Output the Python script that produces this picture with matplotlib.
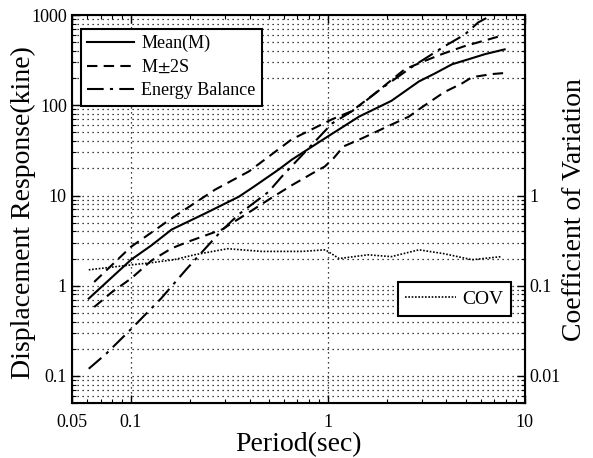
import matplotlib
matplotlib.use("Agg")
import matplotlib.pyplot as plt
from matplotlib.ticker import LogLocator, NullFormatter, FixedLocator, FixedFormatter

plt.rcParams['font.family'] = ['Liberation Serif', 'DejaVu Serif']
plt.rcParams['mathtext.fontset'] = 'stix'

# ---- data ----
mean_T = [0.061, 0.1, 0.127, 0.161, 0.237, 0.353, 0.42, 0.564, 0.656, 0.965,
          1.44, 2.1, 2.9, 3.5, 4.27, 5.2, 6.3, 7.9]
mean_v = [0.72, 1.94, 2.8, 4.2, 6.3, 9.7, 12.5, 19.5, 25, 43,
          75, 112, 184, 226, 285, 325, 370, 417]

upper_T = [0.065, 0.1, 0.165, 0.267, 0.397, 0.656, 1.05, 1.32, 1.73, 2.45,
           3.07, 3.8, 4.9, 7.6]
upper_v = [1.1, 2.7, 5.8, 11.6, 18.5, 42, 70, 86, 135, 250,
           308, 370, 450, 590]

lower_T = [0.065, 0.08, 0.1, 0.127, 0.161, 0.197, 0.29, 0.397, 0.52, 0.656,
           0.83, 0.965, 1.07, 1.2, 1.49, 2.1, 2.58, 3.0, 3.9, 4.8, 5.4, 6.8, 7.9]
lower_v = [0.58, 0.85, 1.2, 1.9, 2.6, 3.1, 4.2, 6.5, 9.5, 13,
           17.5, 21, 26, 35, 43, 61, 75, 95, 140, 175, 205, 222, 228]

energy_T = [0.061, 0.075, 0.1, 0.142, 0.192, 0.25, 0.286, 0.353, 0.5, 0.58,
            1.05, 1.37, 1.88, 2.67, 3.9, 4.96, 5.8, 6.8]
energy_v = [0.12, 0.177, 0.33, 0.72, 1.54, 2.9, 4.0, 6.2, 11, 16,
            63, 90, 155, 266, 450, 610, 830, 1000]

cov_T = [0.061, 0.1, 0.127, 0.165, 0.21, 0.26, 0.31, 0.46, 0.74, 0.97,
         1.14, 1.6, 2.1, 2.9, 3.9, 5.4, 7.6]
cov_v = [0.15, 0.17, 0.18, 0.194, 0.22, 0.24, 0.257, 0.24, 0.24, 0.25,
         0.20, 0.22, 0.21, 0.25, 0.226, 0.194, 0.21]

xticks = [0.05, 0.1, 1, 10]
xticklabels = ['0.05', '0.1', '1', '10']
yticks = [0.1, 1, 10, 100, 1000]
yticklabels = ['0.1', '1', '10', '100', '1000']
rticks = [0.01, 0.1, 1]
rticklabels = ['0.01', '0.1', '1']

fig = plt.figure(figsize=(5.93, 4.58), dpi=100)
ax = fig.add_axes([0.121, 0.12, 0.764, 0.847])

dot = (0, (1, 3))
l1, = ax.plot(mean_T, mean_v, color='black', lw=1.5, ls='-', label='Mean(M)')
l2, = ax.plot(upper_T, upper_v, color='black', lw=1.5, ls=(0, (5, 3)), label='M$\\pm$2S')
ax.plot(lower_T, lower_v, color='black', lw=1.5, ls=(0, (5, 3)))
l3, = ax.plot(energy_T, energy_v, color='black', lw=1.5, ls=(0, (8, 3, 1.5, 3)),
              label='Energy Balance')

ax.set_xscale('log')
ax.set_yscale('log')
ax.set_xlim(0.05, 10)
ax.set_ylim(0.05, 1000)

ax.xaxis.set_major_locator(FixedLocator(xticks))
ax.xaxis.set_major_formatter(FixedFormatter(xticklabels))
ax.xaxis.set_minor_locator(LogLocator(base=10, subs=range(2, 10)))
ax.xaxis.set_minor_formatter(NullFormatter())
ax.yaxis.set_major_locator(FixedLocator(yticks))
ax.yaxis.set_major_formatter(FixedFormatter(yticklabels))
ax.yaxis.set_minor_locator(LogLocator(base=10, subs=range(2, 10)))
ax.yaxis.set_minor_formatter(NullFormatter())

ax.tick_params(which='both', direction='in', top=True, right=False, labelsize=13)
ax.tick_params(axis='x', which='major', pad=8)
ax.tick_params(which='major', length=6, width=1)
ax.tick_params(which='minor', length=3, width=0.8)

# grid: horizontal at every decade step, vertical only at 0.1 and 1
for v in [0.05, 0.06, 0.07, 0.08, 0.09]:
    ax.axhline(v, color='black', lw=0.9, ls=dot, zorder=0)
for d in [0.1, 1, 10, 100]:
    for m in range(1, 10):
        ax.axhline(d * m, color='black', lw=0.9, ls=dot, zorder=0)
for v in [0.1, 1]:
    ax.axvline(v, color='black', lw=0.9, ls=dot, zorder=0)

for s in ax.spines.values():
    s.set_linewidth(1.5)

ax.set_xlabel('Period(sec)', fontsize=20, labelpad=1)
ax.set_ylabel('Displacement Response(kine)', fontsize=20)
ax.yaxis.set_label_coords(-0.08, 0.49)

leg = ax.legend(handles=[l1, l2, l3], loc='upper left', fontsize=13,
                bbox_to_anchor=(0.0, 0.988), handlelength=2.6,
                fancybox=False, framealpha=1, edgecolor='black',
                borderpad=0.35, labelspacing=0.35, handletextpad=0.4)
leg.get_frame().set_linewidth(1.5)

ax2 = ax.twinx()
ax2.set_yscale('log')
ax2.set_ylim(0.005, 100)
l4, = ax2.plot(cov_T, cov_v, color='black', lw=1.2, ls=(0, (1, 1)), label='COV')
ax2.yaxis.set_major_locator(FixedLocator(rticks))
ax2.yaxis.set_major_formatter(FixedFormatter(rticklabels))
ax2.yaxis.set_minor_locator(LogLocator(base=10, subs=range(2, 10)))
ax2.yaxis.set_minor_formatter(NullFormatter())
ax2.tick_params(which='both', direction='in', labelsize=13)
ax2.tick_params(which='major', length=6, width=1)
ax2.tick_params(which='minor', length=3, width=0.8)
ax2.set_ylabel('Coefficient of Variation', fontsize=20, labelpad=1)

leg2 = ax2.legend(handles=[l4], loc='center right', fontsize=14,
                  bbox_to_anchor=(0.969, 0.268), borderaxespad=0,
                  handlelength=2.6, fancybox=False, framealpha=1,
                  edgecolor='black', borderpad=0.4, handletextpad=0.3)
leg2.get_frame().set_linewidth(1.5)

fig.savefig('out.png', dpi=100)
